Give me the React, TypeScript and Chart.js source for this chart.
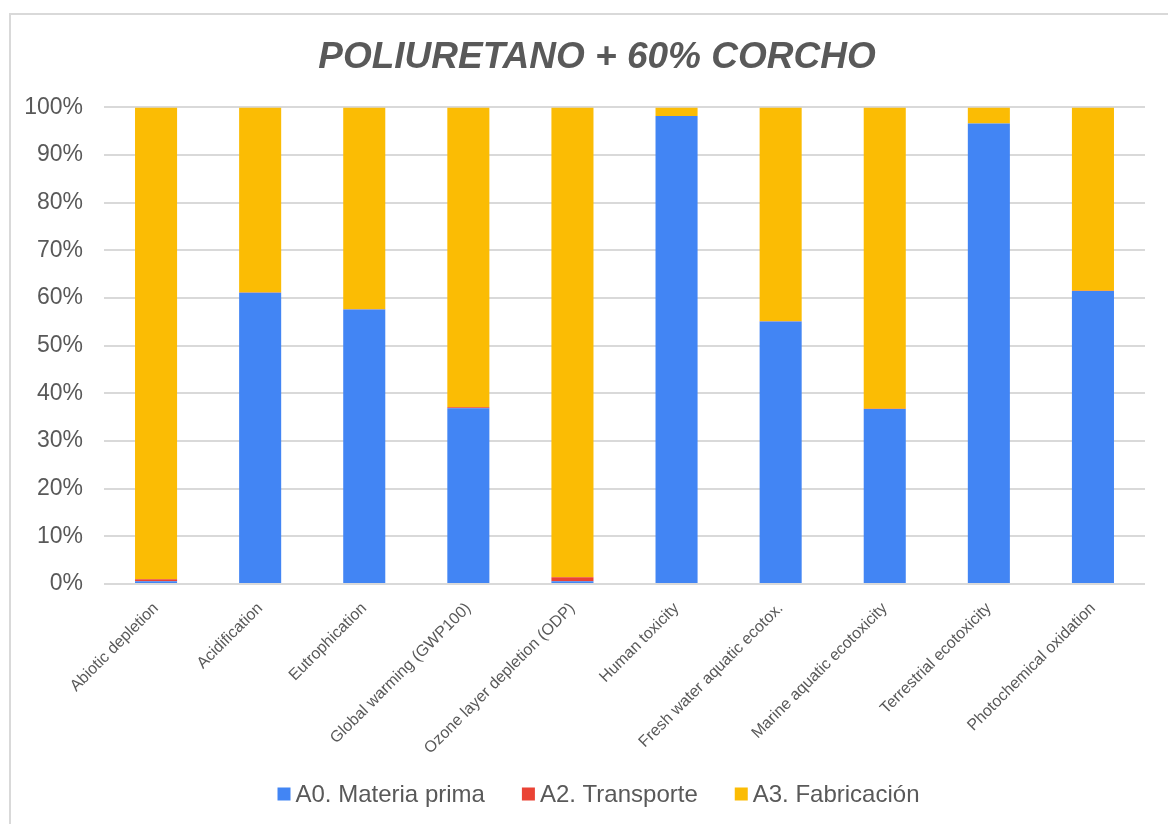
import React, { useEffect, useRef } from "react";
import { Chart, registerables } from "chart.js";

Chart.register(...registerables);

const categories = [
  "Abiotic depletion",
  "Acidification",
  "Eutrophication",
  "Global warming (GWP100)",
  "Ozone layer depletion (ODP)",
  "Human toxicity",
  "Fresh water aquatic ecotox.",
  "Marine aquatic ecotoxicity",
  "Terrestrial ecotoxicity",
  "Photochemical oxidation",
];

const materiaPrima = [0.6, 61.1, 57.6, 36.9, 0.6, 98.2, 55.1, 36.7, 96.6, 61.5];
const transporte = [0.4, 0.05, 0.05, 0.2, 0.8, 0.02, 0.05, 0.05, 0.02, 0.05];
const fabricacion = [99.0, 38.85, 42.35, 62.9, 98.6, 1.78, 44.85, 63.25, 3.38, 38.45];

const seriesNames = ["A0. Materia prima", "A2. Transporte", "A3. Fabricación"];
const seriesColors = ["#4285F4", "#EA4335", "#FBBC04"];

const titleText = "POLIURETANO + 60% CORCHO";
const FONT = "'Liberation Sans', Arial, Helvetica, sans-serif";
const TEXT_COLOR = "#595959";

// Custom bottom legend: small squares close to their labels, like the reference
const bottomLegend = {
  id: "bottomLegend",
  afterDraw(chart: any) {
    const ctx = chart.ctx as CanvasRenderingContext2D;
    const box = 13;
    const gap = 5;
    const itemGap = 37;
    ctx.save();
    ctx.font = `24px ${FONT}`;
    ctx.textBaseline = "middle";
    ctx.textAlign = "left";
    const items = chart.data.datasets.map((ds: any) => ({
      text: ds.label as string,
      color: ds.backgroundColor as string,
      w: ctx.measureText(ds.label).width,
    }));
    const total =
      items.reduce((s: number, it: any) => s + box + gap + it.w, 0) +
      itemGap * (items.length - 1);
    let x = chart.width / 2 - total / 2 + 1.5;
    const y = chart.height - 31;
    for (const it of items) {
      ctx.fillStyle = it.color;
      ctx.fillRect(x, y - box / 2, box, box);
      ctx.fillStyle = TEXT_COLOR;
      ctx.fillText(it.text, x + box + gap, y + 1);
      x += box + gap + it.w + itemGap;
    }
    ctx.restore();
  },
};

export default function App() {
  const canvasRef = useRef<HTMLCanvasElement | null>(null);

  useEffect(() => {
    const canvas = canvasRef.current;
    if (!canvas) return;
    const seriesData = [materiaPrima, transporte, fabricacion];
    const chart = new Chart(canvas, {
      type: "bar",
      data: {
        labels: categories,
        datasets: seriesData.map((d, i) => ({
          label: seriesNames[i],
          data: d,
          backgroundColor: seriesColors[i],
          borderWidth: 0,
          barPercentage: 0.404,
          categoryPercentage: 1,
          yAxisID: "y",
        })),
      },
      options: {
        responsive: false,
        animation: false,
        maintainAspectRatio: false,
        layout: { padding: { left: 0, right: 0, top: 0, bottom: 62 } },
        plugins: {
          title: {
            display: true,
            text: titleText,
            color: TEXT_COLOR,
            font: { family: FONT, size: 37, weight: "bold", style: "italic" },
            padding: { top: 21, bottom: 27 },
          },
          legend: { display: false },
          tooltip: { enabled: false },
        },
        scales: {
          x: {
            stacked: true,
            grid: { display: false },
            border: { display: false },
            afterFit: (scale: any) => {
              scale.height = 179;
            },
            ticks: {
              autoSkip: false,
              maxRotation: 45,
              minRotation: 45,
              padding: 7,
              color: TEXT_COLOR,
              font: { family: FONT, size: 16 },
            },
          },
          y: {
            stacked: true,
            min: 0,
            max: 100,
            position: "left",
            afterFit: (scale: any) => {
              scale.width = 93;
            },
            border: { display: false },
            grid: {
              color: "#d9d9d9",
              lineWidth: 2,
              drawTicks: false,
            },
            ticks: {
              stepSize: 10,
              padding: 21,
              color: TEXT_COLOR,
              font: { family: FONT, size: 23 },
              callback: (v: any) => `${v}%`,
            },
          },
          yRight: {
            type: "linear",
            position: "right",
            min: 0,
            max: 100,
            afterFit: (scale: any) => {
              scale.width = 38;
            },
            border: { display: false },
            grid: { drawOnChartArea: false, drawTicks: false },
            ticks: { display: false },
          },
        },
      },
      plugins: [bottomLegend],
    });
    return () => chart.destroy();
  }, []);

  return (
    <div>
      <div
        style={{
          position: "fixed",
          left: 9,
          top: 13,
          width: 1190,
          height: 840,
          border: "2px solid #d9d9d9",
          boxSizing: "border-box",
          background: "#fff",
        }}
      />
      <canvas
        ref={canvasRef}
        width={1172}
        height={810}
        style={{ position: "fixed", left: 11, top: 15, width: 1172, height: 810 }}
      />
    </div>
  );
}
